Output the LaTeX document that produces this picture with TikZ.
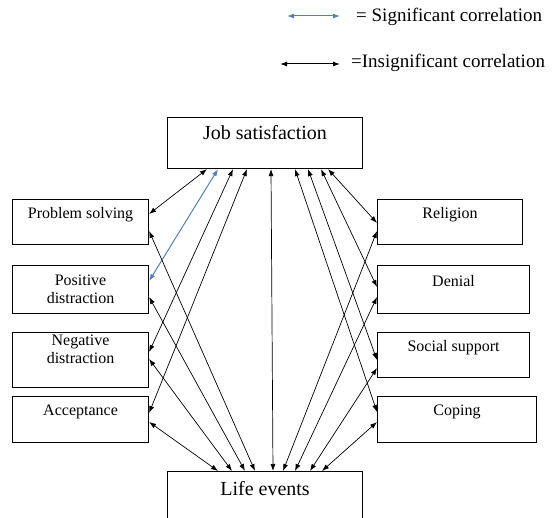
\documentclass[tikz,border=0pt]{standalone}
\usepackage{fontspec}
\setmainfont{Liberation Serif}
\usetikzlibrary{arrows.meta}
\tikzset{>={Latex[length=7pt,width=5pt]}}
\definecolor{sigblue}{RGB}{79,129,189}
\tikzset{
  box/.style={draw, line width=1.1pt, rectangle, anchor=north west, align=center,
    inner sep=2pt, font=\rmfamily\fontsize{16}{18}\selectfont},
  bigbox/.style={box, minimum width=195pt, minimum height=51pt, font=\rmfamily\fontsize{20}{22}\selectfont},
  link/.style={<->, line width=0.7pt},
  legendtext/.style={anchor=west, inner sep=0pt, font=\rmfamily\fontsize{19}{21}\selectfont},
}

\begin{document}
\begin{tikzpicture}[x=1pt,y=-1pt]
  \clip (0,0) rectangle (557,518);

  % Legend
  \coordinate (sa) at (287,16);
  \coordinate (sb) at (340,16);
  \draw[link, sigblue, line width=1pt] (sa) -- (sb);
  \node[legendtext] (sig) at (356,17) {= Significant correlation};
  \coordinate (ia) at (280,64);
  \coordinate (ib) at (340,64);
  \draw[link, line width=1pt] (ia) -- (ib);
  \node[legendtext] (insig) at (351,63) {=Insignificant correlation};

  % middle
  \node[bigbox] (job) at (167,117) {Job satisfaction\\ \mbox{}};
  \node[bigbox, minimum height=56pt] (life) at (167,471) {Life events\\ \mbox{}};

  % left column
  \node[box, minimum width=136pt, minimum height=45pt] (solve) at (12,199) {Problem solving\\ \mbox{}};
  \node[box, minimum width=136pt, minimum height=48pt] (posdis) at (12,265) {Positive\\ distraction};
  \node[box, minimum width=136pt, minimum height=55pt] (negdis) at (12,332) {Negative\\ distraction\\[4pt] \mbox{}};
  \node[box, minimum width=136pt, minimum height=46pt] (accept) at (12,396) {Acceptance\\ \mbox{}};

  % right column
  \node[box, minimum width=145pt, minimum height=45pt] (relig) at (377,199) {Religion\\ \mbox{}};
  \node[box, minimum width=152pt, minimum height=48pt] (denial) at (377,265) {Denial\\ \mbox{}};
  \node[box, minimum width=152pt, minimum height=45pt] (social) at (377,332) {Social support\\ \mbox{}};
  \node[box, minimum width=159pt, minimum height=46pt] (coping) at (377,396) {Coping\\ \mbox{}};

  % job satisfaction <-> left
  \draw[link] ([xshift=40pt]job.south west) -- ([yshift=-15pt]solve.north east);
  \draw[link, sigblue, line width=1pt] ([xshift=51pt]job.south west) -- ([yshift=-16pt]posdis.north east);
  \draw[link] ([xshift=66pt]job.south west) -- ([yshift=-20pt]negdis.north east);
  \draw[link] ([xshift=80pt]job.south west) -- ([yshift=-17pt]accept.north east);

  % life events <-> left
  \draw[link] ([xshift=88pt]life.north west) -- ([yshift=-32pt]solve.north east);
  \draw[link] ([xshift=78pt]life.north west) -- ([yshift=-32pt]posdis.north east);
  \draw[link] ([xshift=65pt]life.north west) -- ([yshift=-27pt]negdis.north east);
  \draw[link] ([xshift=51pt]life.north west) -- ([yshift=-26pt]accept.north east);

  % job satisfaction <-> life events
  \draw[link] ([xshift=104pt]job.south west) -- ([xshift=106pt]life.north west);

  % job satisfaction <-> right
  \draw[link] ([xshift=161pt]job.south west) -- ([yshift=-24pt]relig.north west);
  \draw[link] ([xshift=154pt]job.south west) -- ([yshift=-22pt]denial.north west);
  \draw[link] ([xshift=141pt]job.south west) -- ([yshift=-28pt]social.north west);
  \draw[link] ([xshift=128pt]job.south west) -- ([yshift=-16pt]coping.north west);

  % life events <-> right
  \draw[link] ([xshift=116pt]life.north west) -- ([yshift=-32pt]relig.north west);
  \draw[link] ([xshift=128pt]life.north west) -- ([yshift=-32pt]denial.north west);
  \draw[link] ([xshift=143pt]life.north west) -- ([yshift=-36pt]social.north west);
  \draw[link] ([xshift=155pt]life.north west) -- ([yshift=-26pt]coping.north west);
\end{tikzpicture}
\end{document}
